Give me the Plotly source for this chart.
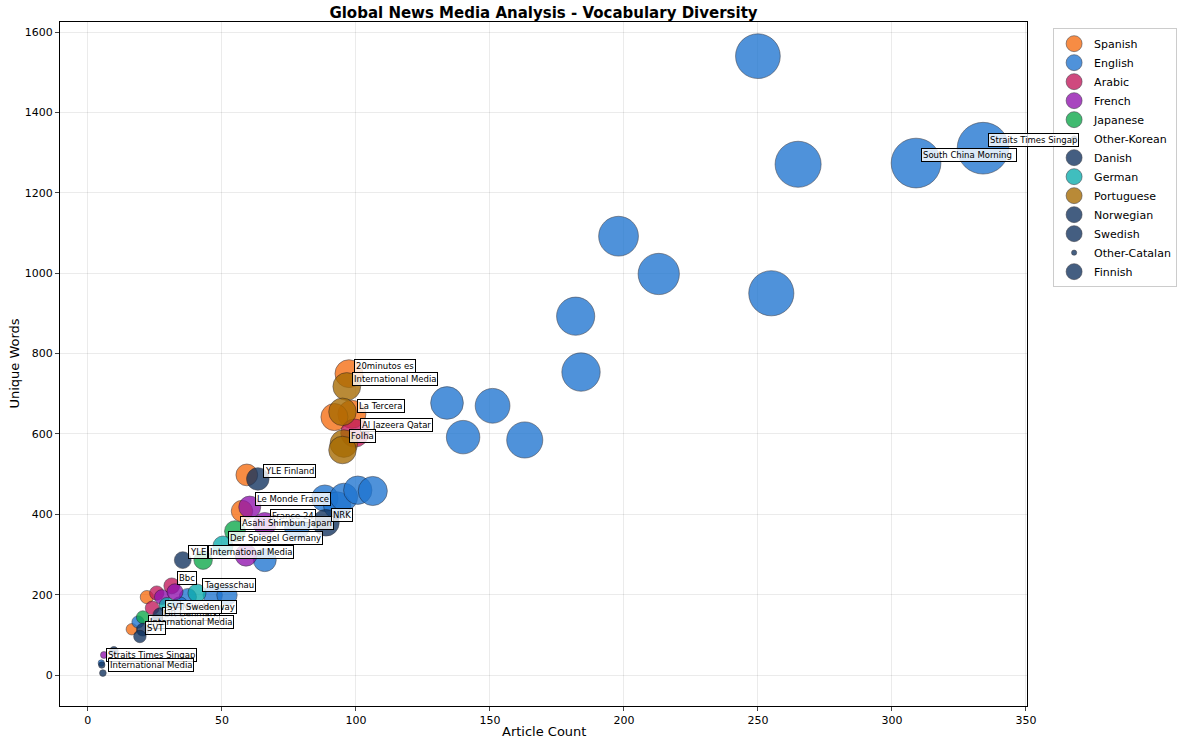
import plotly.graph_objects as go

# article count / unique words per source, grouped by language (legend order)
languages = ["Spanish", "English", "Arabic", "French", "Japanese", "Other-Korean",
             "Danish", "German", "Portuguese", "Norwegian", "Swedish",
             "Other-Catalan", "Finnish"]

spanish_articles = [97.4, 98.5, 92, 59.3, 57.5, 22, 16.4]
spanish_words = [750, 649, 642, 498, 408, 194, 114]
spanish_labels = ["20minutos es", "La Tercera", "", "", "", "", ""]

english_articles = [250, 265, 309, 334, 198, 213, 255, 182, 184, 134, 151, 140, 163,
                    88.4, 93, 95.5, 100.7, 106.3, 78, 66, 37.3, 34.3, 46.6, 51.9, 18.7, 5]
english_words = [1540, 1271, 1274, 1311, 1092, 998, 950, 893, 754, 677, 670, 592, 585,
                 440, 422, 443, 460, 458, 368, 286, 194, 174, 199, 199, 132, 30]
english_labels = ["", "", "South China Morning ", "Straits Times Singap", "", "", "", "", "",
                  "", "", "", "", "", "", "", "", "", "", "", "", "", "", "", "",
                  "Straits Times Singap"]

arabic_articles = [99.6, 31.3, 25.7, 24]
arabic_words = [602, 222, 204, 167]
arabic_labels = ["Al Jazeera Qatar", "Bbc", "", ""]

french_articles = [60.4, 66, 59, 27.6, 32.5, 6]
french_words = [418, 376, 298, 194, 207, 50]
french_labels = ["Le Monde France", "France 24", "", "", "", ""]

japanese_articles = [43, 54.9, 20.5]
japanese_words = [286, 358, 144]
japanese_labels = ["International Media", "Asahi Shimbun Japan", ""]

korean_articles = [5.6]
korean_words = [5]
korean_labels = ["International Media"]

danish_articles = [25.7, 9.7]
danish_words = [132, 60]
danish_labels = ["DR Denmark", ""]

german_articles = [50.4, 40.7, 29.5]
german_words = [321, 204, 174]
german_labels = ["Der Spiegel Germany", "Tagesschau", ""]

portuguese_articles = [96.6, 95, 95.5, 95]
portuguese_words = [718, 655, 576, 560]
portuguese_labels = ["International Media", "", "Folha", ""]

norwegian_articles = [88.8, 32.5]
norwegian_words = [379, 150]
norwegian_labels = ["NRK", "NRK Norway"]

swedish_articles = [27, 20.5, 19.4]
swedish_words = [149, 113, 96]
swedish_labels = ["SVT Sweden", "International Media", "SVT"]

catalan_articles = [5.2]
catalan_words = [25]
catalan_labels = [""]

finnish_articles = [63.4, 35.4]
finnish_words = [488, 286]
finnish_labels = ["YLE Finland", "YLE"]

x_ticks = [0, 50, 100, 150, 200, 250, 300, 350]
y_ticks = [0, 200, 400, 600, 800, 1000, 1200, 1400, 1600]

groups = {
    "Spanish": (spanish_articles, spanish_words, spanish_labels),
    "English": (english_articles, english_words, english_labels),
    "Arabic": (arabic_articles, arabic_words, arabic_labels),
    "French": (french_articles, french_words, french_labels),
    "Japanese": (japanese_articles, japanese_words, japanese_labels),
    "Other-Korean": (korean_articles, korean_words, korean_labels),
    "Danish": (danish_articles, danish_words, danish_labels),
    "German": (german_articles, german_words, german_labels),
    "Portuguese": (portuguese_articles, portuguese_words, portuguese_labels),
    "Norwegian": (norwegian_articles, norwegian_words, norwegian_labels),
    "Swedish": (swedish_articles, swedish_words, swedish_labels),
    "Other-Catalan": (catalan_articles, catalan_words, catalan_labels),
    "Finnish": (finnish_articles, finnish_words, finnish_labels),
}

colors = {
    "Spanish": "#F56C10",
    "English": "#1E74D0",
    "Arabic": "#C2185B",
    "French": "#9012AE",
    "Japanese": "#0BA748",
    "Other-Korean": "#10325E",
    "Danish": "#10325E",
    "German": "#0BACAC",
    "Portuguese": "#A66A00",
    "Norwegian": "#10325E",
    "Swedish": "#10325E",
    "Other-Catalan": "#10325E",
    "Finnish": "#10325E",
}

FONT = "DejaVu Sans, sans-serif"

fig = go.Figure()

for lang in languages:
    xs, ys, labels = groups[lang]
    fig.add_trace(go.Scatter(
        x=xs, y=ys, mode="markers", name=lang,
        marker=dict(
            size=xs, sizemode="area", sizeref=1 / 4.0, sizemin=3,
            color=colors[lang], opacity=0.78,
            line=dict(color="rgba(20,20,30,0.7)", width=0.8),
        ),
    ))

# source name tags
for lang in languages:
    xs, ys, labels = groups[lang]
    for xv, yv, lab in zip(xs, ys, labels):
        if not lab:
            continue
        fig.add_annotation(
            x=xv, y=yv, text=lab, showarrow=False,
            xanchor="left", yanchor="bottom", xshift=5, yshift=1,
            font=dict(family=FONT, size=8.5, color="black"),
            bgcolor="rgba(255,255,255,0.8)", bordercolor="black",
            borderwidth=1, borderpad=1,
        )

# axis titles placed by hand
fig.add_annotation(x=0.5, y=-0.038, xref="paper", yref="paper", text="Article Count",
                   showarrow=False, xanchor="center", yanchor="middle",
                   font=dict(family=FONT, size=13))
fig.add_annotation(x=-0.048, y=0.5, xref="paper", yref="paper", text="Unique Words",
                   showarrow=False, xanchor="center", yanchor="middle", textangle=-90,
                   font=dict(family=FONT, size=13))

fig.update_layout(
    width=1200, height=746,
    margin=dict(l=60, r=173, t=22, b=40, autoexpand=False),
    paper_bgcolor="white", plot_bgcolor="white",
    font=dict(family=FONT, size=11, color="black"),
    title=dict(text="<b>Global News Media Analysis - Vocabulary Diversity</b>",
               x=0.5, xref="paper", xanchor="center",
               y=1 - 13 / 746, yref="container", yanchor="middle",
               font=dict(family=FONT, size=15)),
    legend=dict(x=1.027, y=0.991, xanchor="left", yanchor="top",
                bordercolor="#cccccc", borderwidth=1, font=dict(size=11),
                itemsizing="trace", tracegroupgap=0),
)
fig.update_xaxes(
    automargin=False,
    range=[-10.4, 350.4], tickvals=x_ticks, ticks="outside", ticklen=4,
    showgrid=True, gridcolor="rgba(0,0,0,0.08)", zeroline=False,
    showline=True, linecolor="black", linewidth=1, mirror=True,
)
fig.update_yaxes(
    automargin=False,
    range=[-77, 1625], tickvals=y_ticks, ticks="outside", ticklen=4,
    showgrid=True, gridcolor="rgba(0,0,0,0.08)", zeroline=False,
    showline=True, linecolor="black", linewidth=1, mirror=True,
)

# drop the default 8px page margin so the figure fills the window exactly
fig.write_html("out.html", config={"displayModeBar": False},
               post_script="document.body.style.margin='0';")
